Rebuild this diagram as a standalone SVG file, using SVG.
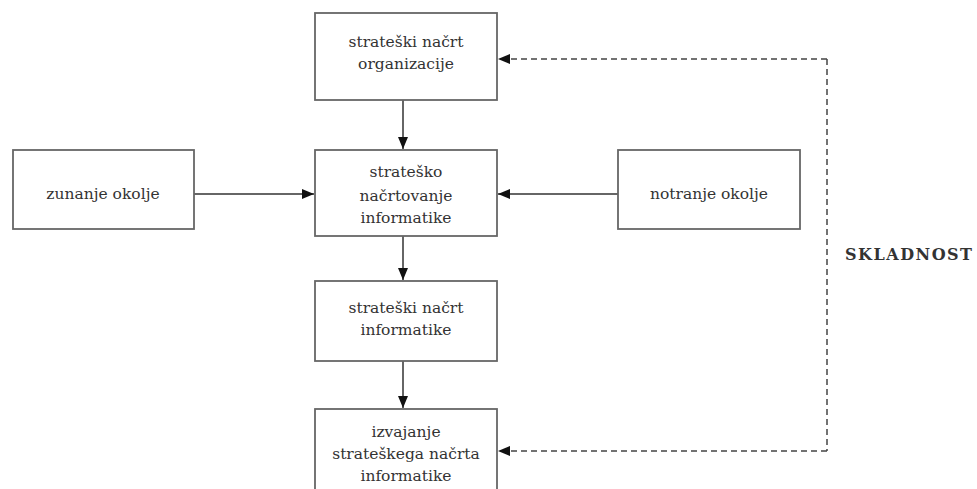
<svg xmlns="http://www.w3.org/2000/svg" width="977" height="489" viewBox="0 0 977 489">
<style>
.box{fill:#fff;stroke:#666;stroke-width:1.8}
.t{font-family:"DejaVu Serif",serif;font-size:15.5px;fill:#333;text-anchor:middle}
.c{stroke:#333;stroke-width:1.5;fill:none}
.d{stroke:#444;stroke-width:1.5;fill:none;stroke-dasharray:6,4}
.b{font-family:"DejaVu Serif",serif;font-size:16px;font-weight:bold;fill:#333;letter-spacing:1.5px}
</style>
<defs>
<marker id="ah" markerWidth="12" markerHeight="10" refX="12" refY="5" orient="auto" markerUnits="userSpaceOnUse">
<path d="M0,0 L12,5 L0,10 Z" fill="#111"/>
</marker>
</defs>
<rect width="977" height="489" fill="#fff"/>
<g id="connectors">
<line class="c" x1="403" y1="100" x2="403" y2="149" marker-end="url(#ah)"/>
<line class="c" x1="194" y1="194" x2="314" y2="194" marker-end="url(#ah)"/>
<line class="c" x1="618" y1="194" x2="498" y2="194" marker-end="url(#ah)"/>
<line class="c" x1="403" y1="236" x2="403" y2="280" marker-end="url(#ah)"/>
<line class="c" x1="403" y1="361" x2="403" y2="408" marker-end="url(#ah)"/>
<path class="d" d="M827,59 L827,451"/>
<line class="d" x1="827" y1="59" x2="498" y2="59" marker-end="url(#ah)"/>
<line class="d" x1="827" y1="451" x2="498" y2="451" marker-end="url(#ah)"/>
</g>
<g id="n1">
<rect class="box" x="315" y="13" width="182" height="87"/>
<text class="t" x="406" y="47">strateški načrt</text>
<text class="t" x="406" y="69">organizacije</text>
</g>
<g id="n2">
<rect class="box" x="13" y="150" width="181" height="79"/>
<text class="t" x="103" y="199">zunanje okolje</text>
</g>
<g id="n3">
<rect class="box" x="315" y="150" width="182" height="86"/>
<text class="t" x="406" y="177">strateško</text>
<text class="t" x="406" y="201">načrtovanje</text>
<text class="t" x="406" y="223">informatike</text>
</g>
<g id="n4">
<rect class="box" x="618" y="150" width="182" height="79"/>
<text class="t" x="709" y="199">notranje okolje</text>
</g>
<g id="n5">
<rect class="box" x="315" y="281" width="182" height="80"/>
<text class="t" x="406" y="313">strateški načrt</text>
<text class="t" x="406" y="335">informatike</text>
</g>
<g id="n6">
<rect class="box" x="315" y="409" width="182" height="90"/>
<text class="t" x="406" y="437">izvajanje</text>
<text class="t" x="406" y="459">strateškega načrta</text>
<text class="t" x="406" y="481">informatike</text>
</g>
<g id="label">
<text class="b" x="845" y="260">SKLADNOST</text>
</g>
</svg>
